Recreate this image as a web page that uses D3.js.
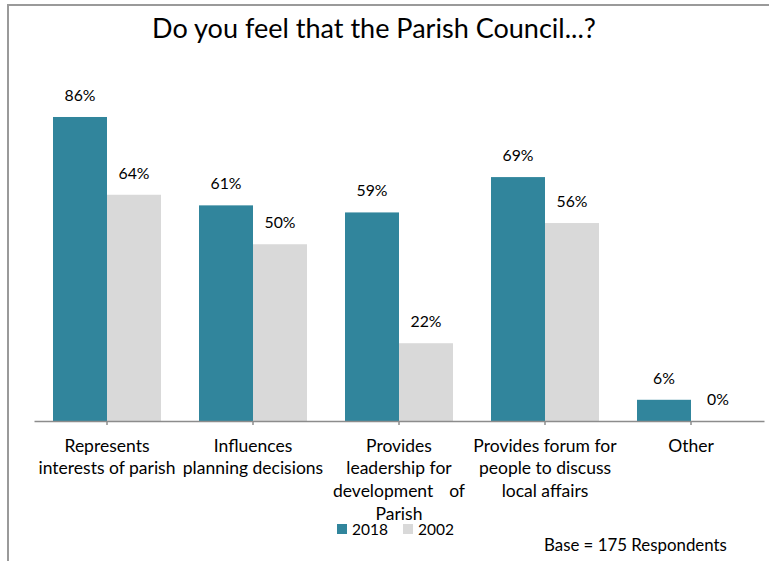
<!DOCTYPE html>
<html>
<head>
<meta charset="utf-8">
<script src="https://cdn.jsdelivr.net/npm/d3@7"></script>
<style>
  html, body { margin: 0; padding: 0; background: #fff; }
  svg { display: block; }
  text { font-family: Lato, "Open Sans", sans-serif; fill: #000; }
</style>
</head>
<body>
<svg id="chart" width="769" height="561"></svg>
<script>
const categories = ["Represents interests of parish", "Influences planning decisions", "Provides leadership for development of Parish", "Provides forum for people to discuss local affairs", "Other"];
const categoryLines = [
  ["Represents", "interests of parish"],
  ["Influences", "planning decisions"],
  ["Provides", "leadership for", ["development", "of"], "Parish"],
  ["Provides forum for", "people to discuss", "local affairs"],
  ["Other"]
];
const seriesNames = ["2018", "2002"];
const values2018 = [86, 61, 59, 69, 6];
const values2002 = [64, 50, 22, 56, 0];
const seriesColors = ["#31859C", "#D9D9D9"];
const titleText = "Do you feel that the Parish Council...?";
const baseText = "Base = 175 Respondents";

const svg = d3.select("#chart");

// size a font so that a sample string has the wanted width
function fitSize(sample, target) {
  const t = svg.append("text").style("font-size", "20px").text(sample);
  const w = t.node().getComputedTextLength();
  t.remove();
  return 20 * target / w;
}
const titleSize = fitSize(titleText, 444);
const catSize = fitSize("interests of parish", 137);
const valSize = fitSize("86%", 31);
const legSize = fitSize("2018", 36);
const baseSize = fitSize(baseText, 183);

// frame
svg.append("line").attr("x1", 8).attr("x2", 769).attr("y1", 5).attr("y2", 5)
  .attr("stroke", "#9a9a9a").attr("stroke-width", 2);
svg.append("line").attr("x1", 8).attr("x2", 8).attr("y1", 4).attr("y2", 561)
  .attr("stroke", "#9a9a9a").attr("stroke-width", 2);

svg.append("text").attr("x", 374).attr("y", 38)
  .attr("text-anchor", "middle").style("font-size", titleSize + "px").text(titleText);

const x = d3.scaleBand().domain(categories).range([34, 764]).padding(0);
const xs = d3.scaleBand().domain(seriesNames).range([0, x.bandwidth()]).paddingInner(0).paddingOuter(0.352);
const y = d3.scaleLinear().domain([0, 100]).range([421, 67.5]);

const data = categories.map((c, i) => ({ cat: c, vals: [
  { s: "2018", v: values2018[i] }, { s: "2002", v: values2002[i] } ] }));

const groups = svg.selectAll("g.grp").data(data).enter().append("g")
  .attr("class", "grp").attr("transform", d => `translate(${x(d.cat)},0)`);

groups.selectAll("rect").data(d => d.vals).enter().append("rect")
  .attr("x", d => xs(d.s)).attr("width", xs.bandwidth())
  .attr("y", d => y(d.v)).attr("height", d => y(0) - y(d.v))
  .attr("fill", (d, i) => seriesColors[i]);

groups.selectAll("text.val").data(d => d.vals).enter().append("text")
  .attr("class", "val")
  .attr("x", d => xs(d.s) + xs.bandwidth() / 2)
  .attr("y", d => y(d.v) - 16)
  .attr("text-anchor", "middle").style("font-size", valSize + "px")
  .text(d => d.v + "%");

// axis
const axis = d3.axisBottom(x).tickSize(4).tickFormat("").tickSizeOuter(0);
const ag = svg.append("g").attr("transform", `translate(0,${y(0)})`).call(axis);
ag.select(".domain").attr("stroke", "#8c8c8c").attr("stroke-width", 1.5);
ag.selectAll(".tick line").attr("stroke", "#8c8c8c").attr("stroke-width", 1.5);

// category labels
categories.forEach((c, i) => {
  const cx = x(c) + x.bandwidth() / 2;
  categoryLines[i].forEach((ln, j) => {
    const yy = 451.5 + j * 22.7;
    if (Array.isArray(ln)) {
      svg.append("text").attr("x", cx - 66).attr("y", yy).attr("text-anchor", "start")
        .style("font-size", catSize + "px").text(ln[0]);
      svg.append("text").attr("x", cx + 66).attr("y", yy).attr("text-anchor", "end")
        .style("font-size", catSize + "px").text(ln[1]);
    } else {
      svg.append("text").attr("x", cx).attr("y", yy).attr("text-anchor", "middle")
        .style("font-size", catSize + "px").text(ln);
    }
  });
});

// legend
const legX = [337, 403];
seriesNames.forEach((s, i) => {
  svg.append("rect").attr("x", legX[i]).attr("y", 524).attr("width", 10).attr("height", 10)
    .attr("fill", seriesColors[i]);
  svg.append("text").attr("x", legX[i] + 15).attr("y", 535).style("font-size", legSize + "px").text(s);
});

// base note
svg.append("text").attr("x", 544).attr("y", 550.5).style("font-size", baseSize + "px").text(baseText);
</script>
</body>
</html>
